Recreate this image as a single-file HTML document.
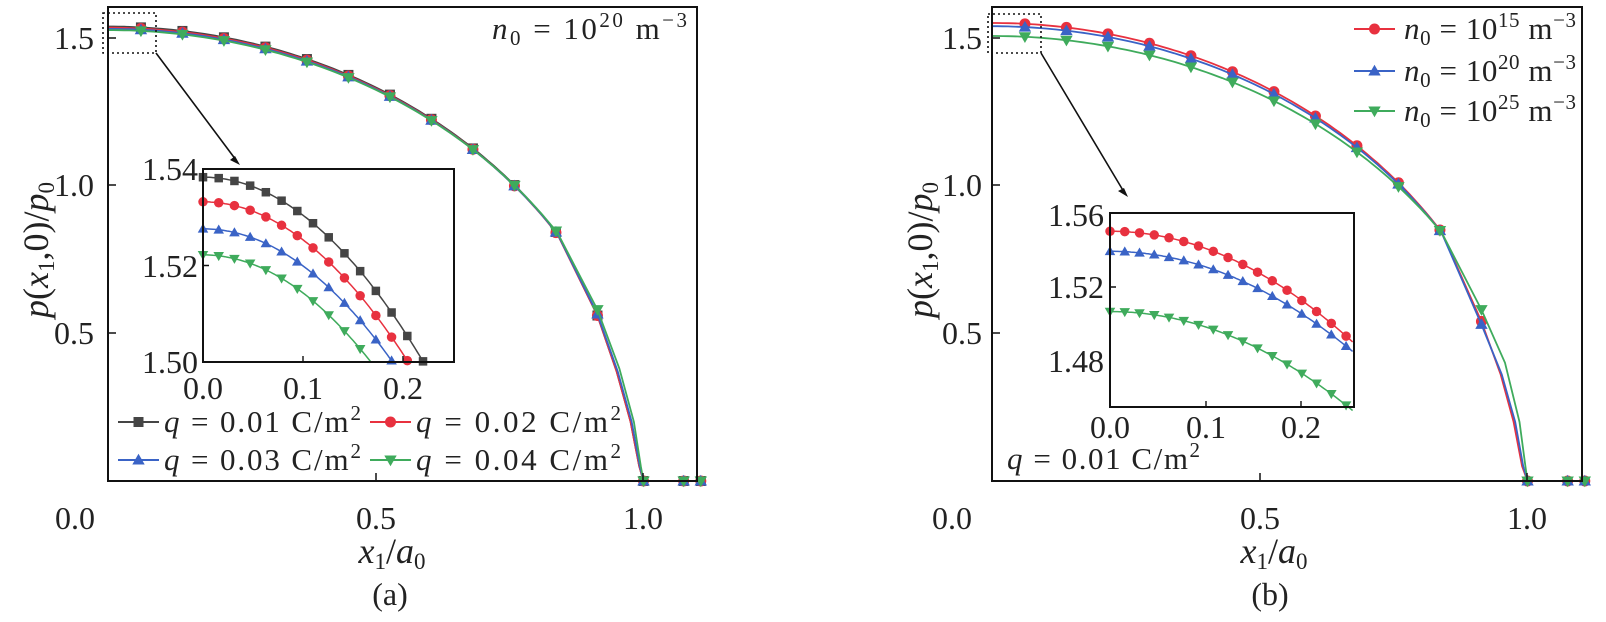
<!DOCTYPE html>
<html><head><meta charset="utf-8"><style>
html,body{margin:0;padding:0;background:#fff;}
svg{display:block;font-family:"Liberation Serif",serif;}
.t{font-size:32px;fill:#222;}
.l{font-size:31px;fill:#222;}
.a{font-size:36px;fill:#222;}
.i{font-style:italic;}
</style></head><body>
<svg id="c" width="1606" height="622" viewBox="0 0 1606 622" xmlns="http://www.w3.org/2000/svg">
<rect width="1606" height="622" fill="#fff"/>
<g id="plots"></g>
<rect x="108" y="7" width="589" height="474" fill="none" stroke="#111" stroke-width="2"/>
<rect x="992" y="7" width="590" height="474" fill="none" stroke="#111" stroke-width="2"/>
<path d="M108 38h8M108 185h8M108 333h8M376 481v-8M643 481v-8M992 38h8M992 185h8M992 333h8M1260 481v-8M1527 481v-8" stroke="#111" stroke-width="1.5"/>
<g class="t">
<text x="74" y="49" text-anchor="middle">1.5</text>
<text x="74" y="196" text-anchor="middle">1.0</text>
<text x="74" y="344" text-anchor="middle">0.5</text>
<text x="75" y="529" text-anchor="middle">0.0</text>
<text x="376" y="529" text-anchor="middle">0.5</text>
<text x="643" y="529" text-anchor="middle">1.0</text>
<text x="962" y="49" text-anchor="middle">1.5</text>
<text x="962" y="196" text-anchor="middle">1.0</text>
<text x="962" y="344" text-anchor="middle">0.5</text>
<text x="952" y="529" text-anchor="middle">0.0</text>
<text x="1260" y="529" text-anchor="middle">0.5</text>
<text x="1527" y="529" text-anchor="middle">1.0</text>
</g>
<g class="a">
<text x="392" y="563" text-anchor="middle"><tspan class="i">x</tspan><tspan font-size="23" dy="6">1</tspan><tspan dy="-6">/</tspan><tspan class="i">a</tspan><tspan font-size="23" dy="6">0</tspan></text>
<text x="1274" y="563" text-anchor="middle"><tspan class="i">x</tspan><tspan font-size="23" dy="6">1</tspan><tspan dy="-6">/</tspan><tspan class="i">a</tspan><tspan font-size="23" dy="6">0</tspan></text>
<text transform="translate(48,250) rotate(-90)" text-anchor="middle"><tspan class="i">p</tspan>(<tspan class="i">x</tspan><tspan font-size="23" dy="6">1</tspan><tspan dy="-6">,0)/</tspan><tspan class="i">p</tspan><tspan font-size="23" dy="6">0</tspan></text>
<text transform="translate(932,250) rotate(-90)" text-anchor="middle"><tspan class="i">p</tspan>(<tspan class="i">x</tspan><tspan font-size="23" dy="6">1</tspan><tspan dy="-6">,0)/</tspan><tspan class="i">p</tspan><tspan font-size="23" dy="6">0</tspan></text>
</g>
<g class="t">
<text x="390" y="605" text-anchor="middle">(a)</text>
<text x="1270" y="605" text-anchor="middle">(b)</text>
</g>
<text class="l" x="492" y="39" textLength="195"><tspan class="i">n</tspan><tspan font-size="21" dy="6">0</tspan><tspan dy="-6"> = 10</tspan><tspan font-size="21" dy="-12">20</tspan><tspan dy="12"> m</tspan><tspan font-size="21" dy="-12">−3</tspan></text>
<rect x="103" y="13" width="53" height="40" fill="none" stroke="#111" stroke-width="1.6" stroke-dasharray="2,3"/>
<rect x="988" y="14" width="53" height="39" fill="none" stroke="#111" stroke-width="1.6" stroke-dasharray="2,3"/>
<path d="M156 53L236 160M1041 53L1124 192" stroke="#111" stroke-width="1.6"/>
<path d="M240 165l-10-5l5-4z M1128 197l-10-6l6-3z" fill="#111"/>
<rect x="203" y="169" width="251" height="193" fill="#fff" stroke="#111" stroke-width="2"/>
<rect x="1110" y="213" width="244" height="194" fill="#fff" stroke="#111" stroke-width="2"/>
<g id="insets"></g>
<rect x="203" y="169" width="251" height="193" fill="none" stroke="#111" stroke-width="2"/>
<rect x="1110" y="213" width="244" height="194" fill="none" stroke="#111" stroke-width="2"/>
<path d="M203 265.5h6M303 362v-6M403 362v-6M1110 287h6M1206 407v-6M1301 407v-6" stroke="#111" stroke-width="1.4"/>
<g class="t">
<text x="198" y="180" text-anchor="end">1.54</text>
<text x="198" y="277" text-anchor="end">1.52</text>
<text x="198" y="373" text-anchor="end">1.50</text>
<text x="203" y="399" text-anchor="middle">0.0</text>
<text x="303" y="399" text-anchor="middle">0.1</text>
<text x="403" y="399" text-anchor="middle">0.2</text>
<text x="1104" y="226" text-anchor="end">1.56</text>
<text x="1104" y="298" text-anchor="end">1.52</text>
<text x="1104" y="372" text-anchor="end">1.48</text>
<text x="1110" y="438" text-anchor="middle">0.0</text>
<text x="1206" y="438" text-anchor="middle">0.1</text>
<text x="1301" y="438" text-anchor="middle">0.2</text>
</g>
<g id="leg"></g>
<g class="l">
<text x="1007" y="469" textLength="193"><tspan class="i">q</tspan> = 0.01 C/m<tspan font-size="21" dy="-12">2</tspan></text>
<text x="164" y="432" textLength="197"><tspan class="i">q</tspan> = 0.01 C/m<tspan font-size="21" dy="-12">2</tspan></text>
<text x="416" y="432" textLength="205"><tspan class="i">q</tspan> = 0.02 C/m<tspan font-size="21" dy="-12">2</tspan></text>
<text x="164" y="470" textLength="197"><tspan class="i">q</tspan> = 0.03 C/m<tspan font-size="21" dy="-12">2</tspan></text>
<text x="416" y="470" textLength="205"><tspan class="i">q</tspan> = 0.04 C/m<tspan font-size="21" dy="-12">2</tspan></text>
<text x="1404" y="39" textLength="172"><tspan class="i">n</tspan><tspan font-size="21" dy="6">0</tspan><tspan dy="-6"> = 10</tspan><tspan font-size="21" dy="-12">15</tspan><tspan dy="12"> m</tspan><tspan font-size="21" dy="-12">−3</tspan></text>
<text x="1404" y="81" textLength="172"><tspan class="i">n</tspan><tspan font-size="21" dy="6">0</tspan><tspan dy="-6"> = 10</tspan><tspan font-size="21" dy="-12">20</tspan><tspan dy="12"> m</tspan><tspan font-size="21" dy="-12">−3</tspan></text>
<text x="1404" y="121" textLength="172"><tspan class="i">n</tspan><tspan font-size="21" dy="6">0</tspan><tspan dy="-6"> = 10</tspan><tspan font-size="21" dy="-12">25</tspan><tspan dy="12"> m</tspan><tspan font-size="21" dy="-12">−3</tspan></text>
</g>
</svg>
<script>
var NS="http://www.w3.org/2000/svg";
var C={k:"#454545",r:"#e8313f",b:"#3a63c6",g:"#3fab5c"};
function el(p,t,a){var e=document.createElementNS(NS,t);for(var k in a)e.setAttribute(k,a[k]);p.appendChild(e);return e;}
function marker(p,type,x,y,s,col){
 if(type=="sq")el(p,"rect",{x:x-s/2,y:y-s/2,width:s,height:s,fill:col});
 else if(type=="ci")el(p,"circle",{cx:x,cy:y,r:s/2+0.5,fill:col});
 else if(type=="up")el(p,"path",{d:"M"+x+" "+(y-s*0.62)+"L"+(x+s*0.62)+" "+(y+s*0.45)+"L"+(x-s*0.62)+" "+(y+s*0.45)+"Z",fill:col});
 else el(p,"path",{d:"M"+x+" "+(y+s*0.62)+"L"+(x+s*0.62)+" "+(y-s*0.45)+"L"+(x-s*0.62)+" "+(y-s*0.45)+"Z",fill:col});
}
var plots=document.getElementById("plots"),ins=document.getElementById("insets"),leg=document.getElementById("leg");
function mainSeries(ox,p0,a,tail,col,type){
 var X=function(v){return ox+535.5*v},Y=function(v){return 481-295.5*v};
 var f=function(x){var u=x/a;return p0*Math.sqrt(Math.max(0,1-u*u));};
 var pts=[],mk=[];
 for(var x=0;x<=0.84;x+=0.01)pts.push([x,f(x)]);
 pts.push([0.84,f(0.84)]);
 for(var i=0;i<tail.length;i++)pts.push(tail[i]);
 pts.push([1.107,0]);
 var d=pts.map(function(q,i){return(i?"L":"M")+X(q[0]).toFixed(1)+" "+Y(q[1]).toFixed(1)}).join("");
 el(plots,"path",{d:d,fill:"none",stroke:col,"stroke-width":1.8});
 for(var i=0;i<12;i++){var x=0.0615+0.0775*i;var v=x>0.85?tail[0][1]:f(x);mk.push([x,v]);}
 mk.push([1,0],[1.075,0],[1.107,0]);
 mk.forEach(function(q){marker(plots,type,X(q[0]),Y(q[1]),10,col)});
}
var tl=[[0.914,0.56],[0.95,0.37],[0.976,0.2],[0.992,0.05],[1,0]];
var tg=[[0.914,0.58],[0.955,0.38],[0.982,0.2],[0.995,0.05],[1,0]];
mainSeries(108,1.538,1,tl,C.k,"sq");
mainSeries(108,1.534,1,tl,C.r,"ci");
mainSeries(108,1.530,1.002,[[0.914,0.565],[0.952,0.37],[0.978,0.2],[0.993,0.05],[1,0]],C.b,"up");
mainSeries(108,1.526,1.005,tg,C.g,"dn");
mainSeries(992,1.550,1,[[0.914,0.54],[0.95,0.36],[0.974,0.2],[0.99,0.05],[1,0]],C.r,"ci");
mainSeries(992,1.539,1.002,[[0.914,0.53],[0.952,0.36],[0.977,0.2],[0.992,0.05],[1,0]],C.b,"up");
mainSeries(992,1.506,1.012,[[0.914,0.58],[0.958,0.40],[0.985,0.2],[0.996,0.05],[1,0]],C.g,"dn");
function inset(x0,xs,yTop,vTop,ys,xmax,ymin,p0,k,col,type,dx){
 var X=function(v){return x0+xs*v},Y=function(v){return yTop+(vTop-v)*ys};
 var g=el(ins,"g",{});
 var pts=[];
 for(var x=0;x<=xmax+1e-9;x+=0.002){var v=p0-k*x*x;if(v<ymin){break;}pts.push([x,v]);}
 var d=pts.map(function(q,i){return(i?"L":"M")+X(q[0]).toFixed(1)+" "+Y(q[1]).toFixed(1)}).join("");
 el(g,"path",{d:d,fill:"none",stroke:col,"stroke-width":1.5});
 for(var x=0;x<=xmax+1e-9;x+=dx){var v=p0-k*x*x;if(v<ymin-0.0005)break;marker(g,type,X(x),Y(v),8.5,col);}
}
inset(203,1001,169,1.54,4825,0.25,1.50,1.5383,0.79,C.k,"sq",0.0157);
inset(203,1001,169,1.54,4825,0.25,1.50,1.5332,0.79,C.r,"ci",0.0157);
inset(203,1001,169,1.54,4825,0.25,1.50,1.5276,0.77,C.b,"up",0.0157);
inset(203,1001,169,1.54,4825,0.25,1.4995,1.5222,0.79,C.g,"dn",0.0157);
inset(1110,955,213,1.56,1825,0.255,1.45,1.550,0.94,C.r,"ci",0.01545);
inset(1110,955,213,1.56,1825,0.255,1.45,1.539,0.85,C.b,"up",0.01545);
inset(1110,955,213,1.56,1825,0.255,1.45,1.506,0.84,C.g,"dn",0.01545);
function li(x1,x2,y,col,type){el(leg,"path",{d:"M"+x1+" "+y+"H"+x2,stroke:col,"stroke-width":2});marker(leg,type,(x1+x2)/2,y,10,col);}
li(118,159,422,C.k,"sq");li(370,411,422,C.r,"ci");li(118,159,460,C.b,"up");li(370,411,460,C.g,"dn");
li(1354,1395,29,C.r,"ci");li(1354,1395,71,C.b,"up");li(1354,1395,111,C.g,"dn");
</script>
</body></html>
